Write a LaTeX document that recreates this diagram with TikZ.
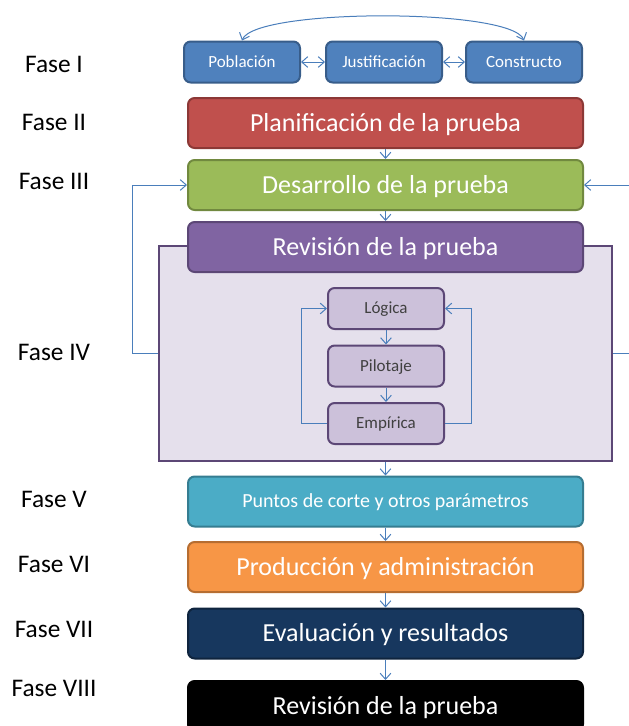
\documentclass[tikz,border=0pt]{standalone}
\usepackage{fontspec}
\setmainfont{Carlito}
\usepackage{tikz}
\definecolor{phaseBlue}{RGB}{79, 129, 189}
\definecolor{phaseBlueDark}{RGB}{56, 93, 138}
\definecolor{phaseRed}{RGB}{192, 80, 77}
\definecolor{phaseRedDark}{RGB}{140, 56, 54}
\definecolor{phaseGreen}{RGB}{155, 187, 89}
\definecolor{phaseGreenDark}{RGB}{113, 137, 63}
\definecolor{phasePurple}{RGB}{128, 100, 162}
\definecolor{phasePurpleDark}{RGB}{92, 71, 118}
\definecolor{phaseLilac}{RGB}{204, 193, 218}
\definecolor{phasePanel}{RGB}{229, 224, 236}
\definecolor{phaseAqua}{RGB}{75, 172, 198}
\definecolor{phaseAquaDark}{RGB}{53, 125, 145}
\definecolor{phaseOrange}{RGB}{247, 150, 70}
\definecolor{phaseOrangeDark}{RGB}{182, 109, 49}
\definecolor{phaseNavy}{RGB}{23, 55, 94}
\definecolor{phaseNavyDark}{RGB}{15, 36, 62}
\definecolor{linkBlue}{RGB}{74, 126, 187}
\usetikzlibrary{arrows.meta, positioning}
\tikzset{
    >={Straight Barb[length=4.5pt,width=8pt]},
    link/.style={
        draw=linkBlue,
        line width=0.75pt
    },
    faselabel/.style={
        anchor=base,
        font=\fontsize{19}{22}\selectfont
    },
    stagebox/.style={
        rectangle,
        rounded corners=5pt,
        line width=1.5pt,
        minimum width=296.25pt,
        minimum height=37.5pt,
        inner sep=0pt,
        text height=12.6pt,
        text depth=0pt,
        text=white,
        font=\fontsize{19.5}{23}\selectfont
    },
    topicbox/.style={
        rectangle,
        rounded corners=5pt,
        line width=1.5pt,
        draw=phaseBlueDark,
        fill=phaseBlue,
        minimum width=87pt,
        minimum height=30.75pt,
        inner sep=0pt,
        text height=8.2pt,
        text depth=0pt,
        text=white,
        font=\fontsize{12.75}{15}\selectfont
    },
    reviewbox/.style={
        rectangle,
        rounded corners=5pt,
        line width=1.5pt,
        draw=phasePurpleDark,
        fill=phaseLilac,
        minimum width=87pt,
        minimum height=30.75pt,
        inner sep=0pt,
        text height=8.2pt,
        text depth=0pt,
        text=black!75,
        font=\fontsize{12.75}{15}\selectfont
    }
}

\begin{document}
\begin{tikzpicture}[x=0.75pt, y=-0.75pt]
    \clip (0,0) rectangle (629,726);

    \node[faselabel] (f1) at (54,72) {Fase I};
    \node[faselabel] (f2) at (54,130) {Fase II};
    \node[faselabel] (f3) at (54,189) {Fase III};
    \node[faselabel] (f4) at (54,360) {Fase IV};
    \node[faselabel] (f5) at (54,507) {Fase V};
    \node[faselabel] (f6) at (54,572) {Fase VI};
    \node[faselabel] (f7) at (54,637) {Fase VII};
    \node[faselabel] (f8) at (54,696) {Fase VIII};

    \node[topicbox] (poblacion) at (242,62) {Población};
    \node[topicbox] (justificacion) at (384,62) {Justificación};
    \node[topicbox] (constructo) at (524,62) {Constructo};

    \node[stagebox, draw=phaseRedDark, fill=phaseRed] (planificacion) at (385.5,123) {Planificación de la prueba};
    \node[stagebox, draw=phaseGreenDark, fill=phaseGreen] (desarrollo) at (385.5,185) {Desarrollo de la prueba};

    \node[
        rectangle,
        draw=phasePurpleDark,
        fill=phasePanel,
        line width=1.5pt,
        minimum width=339.75pt,
        minimum height=161.25pt,
        inner sep=0pt
    ] (panel) at (385.5,353.5) {};

    \node[stagebox, draw=phasePurpleDark, fill=phasePurple] (revision) at (385.5,247) {Revisión de la prueba};

    \node[reviewbox] (logica) at (386,308.5) {Lógica};
    \node[reviewbox] (pilotaje) at (386,366) {Pilotaje};
    \node[reviewbox] (empirica) at (386,423.5) {Empírica};

    \node[stagebox, draw=phaseAquaDark, fill=phaseAqua, font=\fontsize{15}{18}\selectfont, text height=9.7pt] (puntos) at (385.5,501.5) {Puntos de corte y otros parámetros};
    \node[stagebox, draw=phaseOrangeDark, fill=phaseOrange] (produccion) at (385.5,567) {Producción y administración};
    \node[stagebox, draw=phaseNavyDark, fill=phaseNavy] (evaluacion) at (385.5,633.5) {Evaluación y resultados};
    \node[stagebox, draw=black, fill=black] (revfinal) at (385.5,706) {Revisión de la prueba};

    \draw[link, <->] (poblacion) -- (justificacion);
    \draw[link, <->] (justificacion) -- (constructo);
    \draw[link, <->] (poblacion.north) .. controls (255,8) and (511,8) .. (constructo.north);

    \draw[link, ->] (planificacion) -- (desarrollo);
    \draw[link, ->] (desarrollo) -- (revision);
    \draw[link, ->] (panel.west) -- ++(-26,0) |- (desarrollo.west);
    \draw[link, ->] (panel.east) -- ++(16,0) |- (desarrollo.east);

    \draw[link, ->] (logica) -- (pilotaje);
    \draw[link, ->] (pilotaje) -- (empirica);
    \draw[link, ->] (empirica.west) -- ++(-26,0) |- (logica.west);
    \draw[link, ->] (empirica.east) -- ++(26,0) |- (logica.east);

    \draw[link, ->] (panel) -- (puntos);
    \draw[link, ->] (puntos) -- (produccion);
    \draw[link, ->] (produccion) -- (evaluacion);
    \draw[link, ->] (evaluacion) -- (revfinal);
\end{tikzpicture}
\end{document}
